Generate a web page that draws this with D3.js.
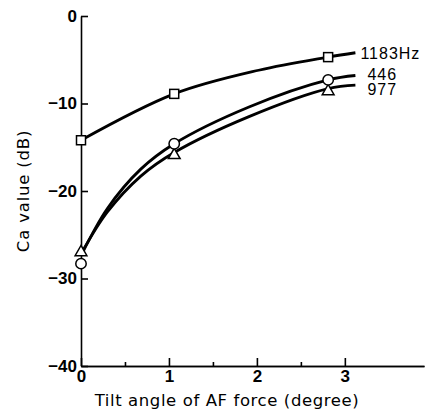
<!DOCTYPE html>
<html>
<head>
<meta charset="utf-8">
<script src="https://cdn.jsdelivr.net/npm/d3@7"></script>
<style>
  body { margin: 0; background: #fff; }
  .tick text { font-family: "Liberation Sans Narrow", "Liberation Sans", sans-serif; font-weight: bold; font-size: 17px; font-stretch: condensed; }
  .title { font-family: "DejaVu Sans", sans-serif; font-size: 16.5px; fill: #000; }
  .series { font-family: "Liberation Sans", sans-serif; font-size: 16px; letter-spacing: 1px; fill: #000; }
</style>
</head>
<body>
<script>
// series names (labels on the right)
var seriesNames = ["1183Hz", "446", "977"];

// marker readings, [angle, dB]
var squares = [[0, -14.2], [1.06, -8.9], [2.81, -4.7]];
var circles = [[0, -28.3], [1.06, -14.6], [2.81, -7.3]];
var triangles = [[0, -27.0], [1.06, -15.9], [2.81, -8.6]];

// drawn curves
var line1183 = [[0, -14.2], [1.06, -8.9], [2.02, -6.2], [2.81, -4.7], [3.12, -4.2]];
var line446 = [[0.01, -27.2], [0.3, -22.0], [0.68, -17.5], [1.06, -14.6], [1.91, -10.4], [2.81, -7.3], [3.12, -6.8]];
var line977 = [[0.01, -27.0], [0.3, -22.4], [0.68, -18.3], [1.06, -15.6], [1.91, -11.5], [2.81, -8.3], [3.12, -7.9]];

var xTicks = [0, 1, 2, 3];
var xMinor = [0.5, 1.5, 2.5];
var yTicks = [0, -10, -20, -30, -40];

var width = 435, height = 411;

var xScale = d3.scaleLinear().domain([0, 3.9]).range([81, 424]);
var yScale = d3.scaleLinear().domain([-40, 0]).range([366, 16]);

var svg = d3.select("body").append("svg")
    .attr("width", width)
    .attr("height", height);

// axes
var yAxis = d3.axisLeft(yScale)
    .tickValues(yTicks)
    .tickSizeInner(-7)
    .tickSizeOuter(0)
    .tickPadding(4)
    .tickFormat(function (d) { return d === 0 ? "0" : "\u2212" + Math.abs(d); });

var xAxis = d3.axisBottom(xScale)
    .tickValues(xTicks)
    .tickSizeInner(-8)
    .tickSizeOuter(0)
    .tickPadding(4)
    .tickFormat(d3.format("d"));

var xAxisMinor = d3.axisBottom(xScale)
    .tickValues(xMinor)
    .tickSizeInner(-4)
    .tickSizeOuter(0)
    .tickFormat("");

svg.append("g").attr("transform", "translate(0,366)").call(xAxisMinor);
svg.append("g").attr("transform", "translate(0,366)").call(xAxis);
svg.append("g").attr("transform", "translate(81,0)").call(yAxis);

svg.selectAll(".domain, .tick line")
    .attr("stroke", "#000")
    .attr("stroke-width", 1.6);
svg.selectAll(".tick text").attr("fill", "#000");

// titles
svg.append("text")
    .attr("class", "title")
    .attr("x", 227)
    .attr("y", 406)
    .attr("text-anchor", "middle")
    .style("letter-spacing", "0.6px")
    .text("Tilt angle of AF force (degree)");

svg.append("text")
    .attr("class", "title")
    .attr("transform", "translate(29,191) rotate(-90)")
    .attr("text-anchor", "middle")
    .style("letter-spacing", "0.8px")
    .text("Ca value (dB)");

// curves
var line = d3.line()
    .x(function (d) { return xScale(d[0]); })
    .y(function (d) { return yScale(d[1]); })
    .curve(d3.curveCatmullRom);

[line1183, line446, line977].forEach(function (pts) {
    svg.append("path")
        .attr("d", line(pts))
        .attr("fill", "none")
        .attr("stroke", "#000")
        .attr("stroke-width", 2.8);
});

// markers
svg.selectAll("rect.sq").data(squares).enter()
    .append("rect")
    .attr("x", function (d) { return xScale(d[0]) - 4.5; })
    .attr("y", function (d) { return yScale(d[1]) - 4.5; })
    .attr("width", 9)
    .attr("height", 9)
    .attr("fill", "#fff")
    .attr("stroke", "#000")
    .attr("stroke-width", 1.5);

svg.selectAll("path.tri").data(triangles).enter()
    .append("path")
    .attr("d", d3.symbol().type(d3.symbolTriangle).size(60))
    .attr("transform", function (d) { return "translate(" + xScale(d[0]) + "," + yScale(d[1]) + ")"; })
    .attr("fill", "#fff")
    .attr("stroke", "#000")
    .attr("stroke-width", 1.5);

svg.selectAll("circle.ci").data(circles).enter()
    .append("circle")
    .attr("cx", function (d) { return xScale(d[0]); })
    .attr("cy", function (d) { return yScale(d[1]); })
    .attr("r", 5.2)
    .attr("fill", "#fff")
    .attr("stroke", "#000")
    .attr("stroke-width", 1.5);

// series labels
var labelEnds = [line1183, line446, line977];
var labelDx = [5, 12, 12];
var labelDy = [6, 4, 10];
seriesNames.forEach(function (name, i) {
    var last = labelEnds[i][labelEnds[i].length - 1];
    svg.append("text")
        .attr("class", "series")
        .attr("x", xScale(last[0]) + labelDx[i])
        .attr("y", yScale(last[1]) + labelDy[i])
        .text(name);
});
</script>
</body>
</html>
